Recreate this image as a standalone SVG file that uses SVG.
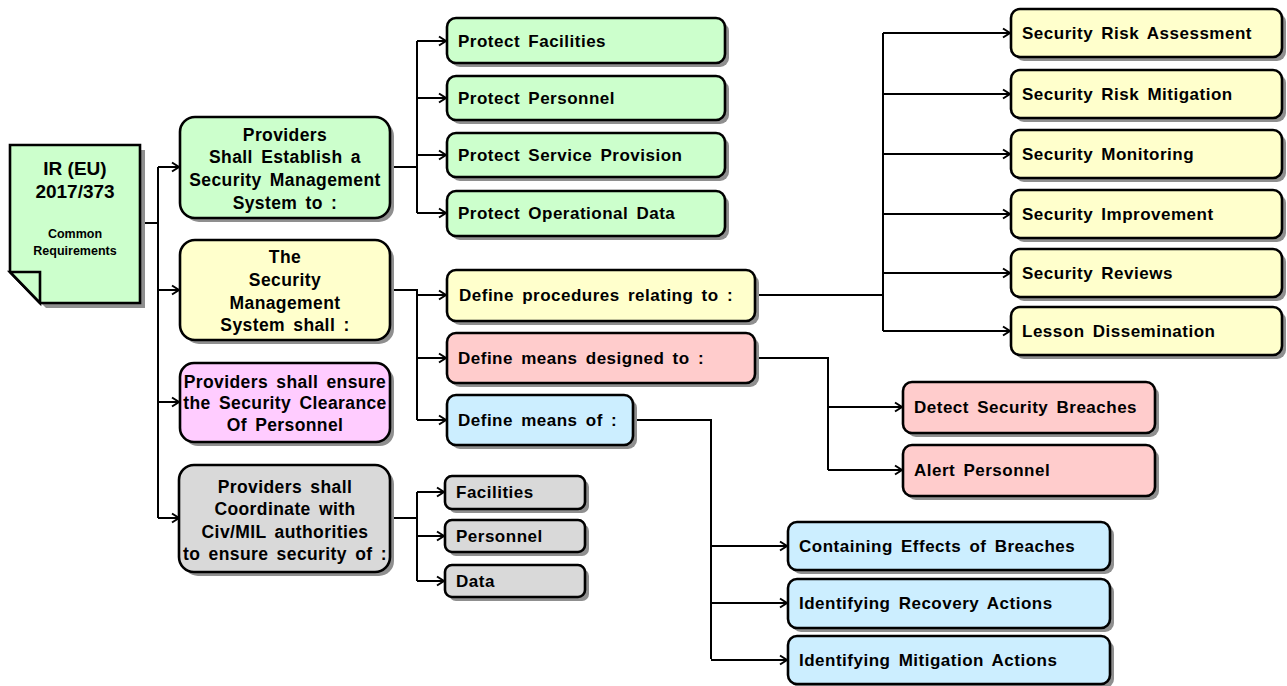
<svg xmlns="http://www.w3.org/2000/svg" width="1287" height="686" viewBox="0 0 1287 686">
  <defs>
    <style>
      .box { stroke: #000; stroke-width: 2.6; }
      .sh { fill: #8f8f8f; }
      .green { fill: #ccffcc; }
      .yellow { fill: #ffffcc; }
      .magenta { fill: #ffccff; }
      .red { fill: #ffcccc; }
      .blue { fill: #cceeff; }
      .grey { fill: #d9d9d9; }
      text { font-family: "Liberation Sans", Arial, sans-serif; font-weight: bold; fill: #000; }
      .lead { font-size: 17.5px; text-anchor: middle; letter-spacing: 0.4px; word-spacing: 3px; }
      .leaf { font-size: 17px; letter-spacing: 0.5px; word-spacing: 3px; }
      .big { font-size: 19px; text-anchor: middle; }
      .small { font-size: 12.5px; text-anchor: middle; }
      .wire { fill: none; stroke: #000; stroke-width: 2; }
      .arr { fill: none; stroke: #000; stroke-width: 2; marker-end: url(#head); }
    </style>
    <marker id="head" markerUnits="userSpaceOnUse" markerWidth="12" markerHeight="12" refX="9" refY="6" orient="auto">
      <path d="M2,1.5 L9,6 L2,10.5" fill="none" stroke="#000" stroke-width="2"/>
    </marker>
  </defs>

  <!-- connectors -->
  <g id="connectors">
    <!-- regulation to the four main statements -->
    <path class="wire" d="M140,223 H158 M158,167 V518"/>
    <path class="arr" d="M158,167 H179"/>
    <path class="arr" d="M158,290 H179"/>
    <path class="arr" d="M158,402 H179"/>
    <path class="arr" d="M158,518 H179"/>

    <!-- protection targets -->
    <path class="wire" d="M390,167 H417 M417,41 V213"/>
    <path class="arr" d="M417,41 H446"/>
    <path class="arr" d="M417,98 H446"/>
    <path class="arr" d="M417,155 H446"/>
    <path class="arr" d="M417,213 H446"/>

    <!-- management system duties -->
    <path class="wire" d="M390,290 H417 V420"/>
    <path class="arr" d="M417,295 H446"/>
    <path class="arr" d="M417,358 H446"/>
    <path class="arr" d="M417,420 H446"/>

    <!-- procedures -->
    <path class="wire" d="M755,295 H883 M883,33 V331"/>
    <path class="arr" d="M883,33 H1010"/>
    <path class="arr" d="M883,94 H1010"/>
    <path class="arr" d="M883,154 H1010"/>
    <path class="arr" d="M883,214 H1010"/>
    <path class="arr" d="M883,273 H1010"/>
    <path class="arr" d="M883,331 H1010"/>

    <!-- detection means -->
    <path class="wire" d="M755,358 H828 V470"/>
    <path class="arr" d="M828,407 H902"/>
    <path class="arr" d="M828,470 H902"/>

    <!-- response means -->
    <path class="wire" d="M633,420 H711 V659"/>
    <path class="arr" d="M711,546 H787"/>
    <path class="arr" d="M711,603 H787"/>
    <path class="arr" d="M711,660 H787"/>

    <!-- coordination targets -->
    <path class="wire" d="M390,518 H417 M417,492 V581"/>
    <path class="arr" d="M417,492 H444"/>
    <path class="arr" d="M417,536 H444"/>
    <path class="arr" d="M417,581 H444"/>
  </g>

  <!-- regulation document -->
  <g id="regulation">
    <path class="sh" d="M15,150 H145 V308 H46 L15,277 Z"/>
    <path class="box green" d="M10,145 H140 V303 H40 L10,272 Z"/>
    <path class="box green" d="M10,272 H40 V303 Z" stroke-linejoin="miter"/>
    <text class="big" x="75" y="175">IR (EU)</text>
    <text class="big" x="75" y="198">2017/373</text>
    <text class="small" x="75" y="238">Common</text>
    <text class="small" x="75" y="255">Requirements</text>
  </g>

  <!-- main statements -->
  <g id="establish-sms">
    <rect class="sh" x="184" y="121" width="210" height="101" rx="15"/>
    <rect class="box green" x="180" y="117" width="210" height="101" rx="15"/>
    <text class="lead" x="285" y="141">Providers</text>
    <text class="lead" x="285" y="163">Shall Establish a</text>
    <text class="lead" x="285" y="186">Security Management</text>
    <text class="lead" x="285" y="209">System to :</text>
  </g>

  <g id="sms-shall">
    <rect class="sh" x="184" y="244" width="210" height="100" rx="15"/>
    <rect class="box yellow" x="180" y="240" width="210" height="100" rx="15"/>
    <text class="lead" x="285" y="263">The</text>
    <text class="lead" x="285" y="286">Security</text>
    <text class="lead" x="285" y="309">Management</text>
    <text class="lead" x="285" y="331">System shall :</text>
  </g>

  <g id="security-clearance">
    <rect class="sh" x="184" y="367" width="210" height="79" rx="14"/>
    <rect class="box magenta" x="180" y="363" width="210" height="79" rx="14"/>
    <text class="lead" x="285" y="388">Providers shall ensure</text>
    <text class="lead" x="285" y="409">the Security Clearance</text>
    <text class="lead" x="285" y="431">Of Personnel</text>
  </g>

  <g id="coordinate">
    <rect class="sh" x="183" y="469" width="211" height="107" rx="15"/>
    <rect class="box grey" x="179" y="465" width="211" height="107" rx="15"/>
    <text class="lead" x="285" y="493">Providers shall</text>
    <text class="lead" x="285" y="515">Coordinate with</text>
    <text class="lead" x="285" y="538">Civ/MIL authorities</text>
    <text class="lead" x="285" y="560">to ensure security of :</text>
  </g>

  <!-- protection targets -->
  <g id="protect-facilities">
    <rect class="sh" x="451" y="22" width="278" height="45" rx="9"/>
    <rect class="box green" x="447" y="18" width="278" height="45" rx="9"/>
    <text class="leaf" x="458" y="47">Protect Facilities</text>
  </g>
  <g id="protect-personnel">
    <rect class="sh" x="451" y="80" width="278" height="44" rx="9"/>
    <rect class="box green" x="447" y="76" width="278" height="44" rx="9"/>
    <text class="leaf" x="458" y="104">Protect Personnel</text>
  </g>
  <g id="protect-service">
    <rect class="sh" x="451" y="137" width="278" height="44" rx="9"/>
    <rect class="box green" x="447" y="133" width="278" height="44" rx="9"/>
    <text class="leaf" x="458" y="161">Protect Service Provision</text>
  </g>
  <g id="protect-data">
    <rect class="sh" x="451" y="195" width="278" height="45" rx="9"/>
    <rect class="box green" x="447" y="191" width="278" height="45" rx="9"/>
    <text class="leaf" x="458" y="219">Protect Operational Data</text>
  </g>

  <!-- management system duties -->
  <g id="define-procedures">
    <rect class="sh" x="451" y="274" width="308" height="51" rx="9"/>
    <rect class="box yellow" x="447" y="270" width="308" height="51" rx="9"/>
    <text class="leaf" x="459" y="301">Define procedures relating to :</text>
  </g>
  <g id="define-means-designed">
    <rect class="sh" x="451" y="337" width="308" height="50" rx="9"/>
    <rect class="box red" x="447" y="333" width="308" height="50" rx="9"/>
    <text class="leaf" x="458" y="364">Define means designed to :</text>
  </g>
  <g id="define-means-of">
    <rect class="sh" x="451" y="399" width="186" height="50" rx="9"/>
    <rect class="box blue" x="447" y="395" width="186" height="50" rx="9"/>
    <text class="leaf" x="458" y="426">Define means of :</text>
  </g>

  <!-- procedures -->
  <g id="risk-assessment">
    <rect class="sh" x="1015" y="13" width="271" height="48" rx="9"/>
    <rect class="box yellow" x="1011" y="9" width="271" height="48" rx="9"/>
    <text class="leaf" x="1022" y="39">Security Risk Assessment</text>
  </g>
  <g id="risk-mitigation">
    <rect class="sh" x="1015" y="74" width="271" height="48" rx="9"/>
    <rect class="box yellow" x="1011" y="70" width="271" height="48" rx="9"/>
    <text class="leaf" x="1022" y="100">Security Risk Mitigation</text>
  </g>
  <g id="monitoring">
    <rect class="sh" x="1015" y="134" width="271" height="48" rx="9"/>
    <rect class="box yellow" x="1011" y="130" width="271" height="48" rx="9"/>
    <text class="leaf" x="1022" y="160">Security Monitoring</text>
  </g>
  <g id="improvement">
    <rect class="sh" x="1015" y="194" width="271" height="48" rx="9"/>
    <rect class="box yellow" x="1011" y="190" width="271" height="48" rx="9"/>
    <text class="leaf" x="1022" y="220">Security Improvement</text>
  </g>
  <g id="reviews">
    <rect class="sh" x="1015" y="253" width="271" height="48" rx="9"/>
    <rect class="box yellow" x="1011" y="249" width="271" height="48" rx="9"/>
    <text class="leaf" x="1022" y="279">Security Reviews</text>
  </g>
  <g id="lessons">
    <rect class="sh" x="1015" y="311" width="271" height="48" rx="9"/>
    <rect class="box yellow" x="1011" y="307" width="271" height="48" rx="9"/>
    <text class="leaf" x="1022" y="337">Lesson Dissemination</text>
  </g>

  <!-- detection means -->
  <g id="detect-breaches">
    <rect class="sh" x="907" y="386" width="252" height="51" rx="9"/>
    <rect class="box red" x="903" y="382" width="252" height="51" rx="9"/>
    <text class="leaf" x="914" y="413">Detect Security Breaches</text>
  </g>
  <g id="alert-personnel">
    <rect class="sh" x="907" y="449" width="252" height="51" rx="9"/>
    <rect class="box red" x="903" y="445" width="252" height="51" rx="9"/>
    <text class="leaf" x="914" y="476">Alert Personnel</text>
  </g>

  <!-- response means -->
  <g id="containing-effects">
    <rect class="sh" x="792" y="526" width="322" height="48" rx="9"/>
    <rect class="box blue" x="788" y="522" width="322" height="48" rx="9"/>
    <text class="leaf" x="799" y="552">Containing Effects of Breaches</text>
  </g>
  <g id="recovery-actions">
    <rect class="sh" x="792" y="583" width="322" height="49" rx="9"/>
    <rect class="box blue" x="788" y="579" width="322" height="49" rx="9"/>
    <text class="leaf" x="799" y="609">Identifying Recovery Actions</text>
  </g>
  <g id="mitigation-actions">
    <rect class="sh" x="792" y="640" width="322" height="48" rx="9"/>
    <rect class="box blue" x="788" y="636" width="322" height="48" rx="9"/>
    <text class="leaf" x="799" y="666">Identifying Mitigation Actions</text>
  </g>

  <!-- coordination targets -->
  <g id="coord-facilities">
    <rect class="sh" x="449" y="480" width="140" height="33" rx="7"/>
    <rect class="box grey" x="445" y="476" width="140" height="33" rx="7"/>
    <text class="leaf" x="456" y="498">Facilities</text>
  </g>
  <g id="coord-personnel">
    <rect class="sh" x="449" y="524" width="140" height="32" rx="7"/>
    <rect class="box grey" x="445" y="520" width="140" height="32" rx="7"/>
    <text class="leaf" x="456" y="542">Personnel</text>
  </g>
  <g id="coord-data">
    <rect class="sh" x="449" y="569" width="140" height="32" rx="7"/>
    <rect class="box grey" x="445" y="565" width="140" height="32" rx="7"/>
    <text class="leaf" x="456" y="587">Data</text>
  </g>
</svg>
